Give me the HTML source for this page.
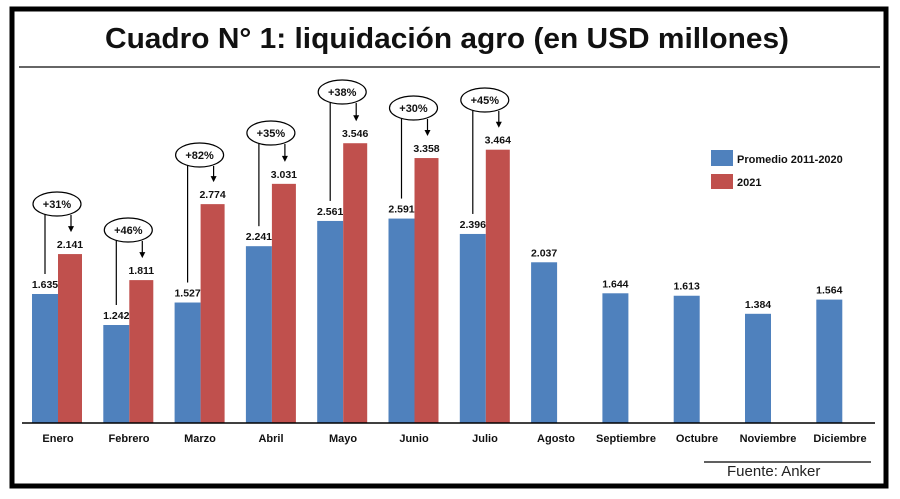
<!DOCTYPE html>
<html><head><meta charset="utf-8"><style>
html,body{margin:0;padding:0;background:#fff;}
svg{display:block;}
text{font-family:"Liberation Sans",sans-serif;}
</style></head><body>
<svg width="900" height="499" viewBox="0 0 900 499" xmlns="http://www.w3.org/2000/svg">
<rect x="12" y="9" width="874" height="477" fill="#fff" stroke="#000" stroke-width="5"/>
<text x="447" y="48" font-size="29" font-weight="bold" text-anchor="middle" fill="#111" textLength="684" lengthAdjust="spacingAndGlyphs">Cuadro N° 1: liquidación agro (en USD millones)</text>
<line x1="19" y1="67" x2="880" y2="67" stroke="#333" stroke-width="1.5"/>
<g id="bars"></g>
<line x1="22" y1="423" x2="875" y2="423" stroke="#000" stroke-width="1.5"/>
<g font-size="11" font-weight="bold" fill="#111" text-anchor="middle">
<text x="58" y="442">Enero</text><text x="129" y="442">Febrero</text><text x="200" y="442">Marzo</text><text x="271" y="442">Abril</text><text x="343" y="442">Mayo</text><text x="414" y="442">Junio</text><text x="485" y="442">Julio</text><text x="556" y="442">Agosto</text><text x="626" y="442">Septiembre</text><text x="697" y="442">Octubre</text><text x="768" y="442">Noviembre</text><text x="840" y="442">Diciembre</text>
</g>
<rect x="711" y="150" width="22" height="16" fill="#4F81BD"/>
<rect x="711" y="174" width="22" height="15" fill="#C0504D"/>
<g font-size="11" font-weight="bold" fill="#111"><text x="737" y="163">Promedio 2011-2020</text><text x="737" y="186">2021</text></g>
<line x1="704" y1="462" x2="871" y2="462" stroke="#000" stroke-width="1.2"/>
<text x="727" y="476" font-size="15" fill="#222">Fuente: Anker</text>
<script>
var s=0.0789,b=423,g=document.getElementById('bars'),ns='http://www.w3.org/2000/svg';
var blue=[1635,1242,1527,2241,2561,2591,2396,2037,1644,1613,1384,1564];
var red=[2141,1811,2774,3031,3546,3358,3464];
var pct=['+31%','+46%','+82%','+35%','+38%','+30%','+45%'];
var ey=[204,230,155,133,92,108,100];
function el(t,a,txt){var e=document.createElementNS(ns,t);for(var k in a)e.setAttribute(k,a[k]);if(txt)e.textContent=txt;g.appendChild(e);return e;}
function fmt(v){var s=String(v);return s[0]+'.'+s.slice(1);}
for(var i=0;i<12;i++){
 var x=32+i*71.3;var h=blue[i]*s;
 el('rect',{x:x,y:b-h,width:26,height:h,fill:'#4F81BD'});
 el('text',{x:x+13,y:b-h-6,'font-size':10.5,'font-weight':'bold','text-anchor':'middle',fill:'#111'},fmt(blue[i]));
 if(i<7){var hr=red[i]*s;
  el('rect',{x:x+26,y:b-hr,width:24,height:hr,fill:'#C0504D'});
  el('text',{x:x+38,y:b-hr-6,'font-size':10.5,'font-weight':'bold','text-anchor':'middle',fill:'#111'},fmt(red[i]));
  var cx=x+25,cy=ey[i];
  el('line',{x1:x+13,y1:cy+10,x2:x+13,y2:b-h-20,stroke:'#000','stroke-width':1.2});
  var ye=b-hr-22;
  el('line',{x1:x+39,y1:cy+11,x2:x+39,y2:ye-4,stroke:'#000','stroke-width':1.2});
  el('polygon',{points:(x+36)+','+(ye-6)+' '+(x+42)+','+(ye-6)+' '+(x+39)+','+ye,fill:'#000'});
  el('ellipse',{cx:cx,cy:cy,rx:24,ry:12,fill:'#fff',stroke:'#000','stroke-width':1.2});
  el('text',{x:cx,y:cy+4,'font-size':11,'font-weight':'bold','text-anchor':'middle',fill:'#111'},pct[i]);
 }
}
</script>
</svg>
</body></html>
